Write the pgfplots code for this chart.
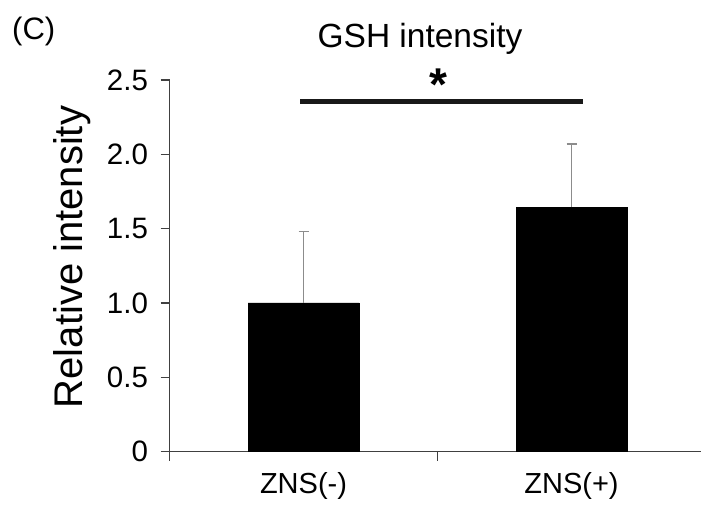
\documentclass[border=0pt]{standalone}
\usepackage{fontspec}
\setmainfont{Liberation Sans}
\usepackage{pgfplots}
\pgfplotsset{compat=1.18}
\begin{document}
\begin{tikzpicture}
\useasboundingbox (0pt,0pt) rectangle (701pt,504pt);
\node[anchor=base west, inner sep=0pt, font=\fontsize{31}{36}\selectfont] at (12pt,464pt) {(C)};
\begin{axis}[
  at={(169.5pt,52.5pt)}, anchor=south west,
  scale only axis, width=536pt, height=371.5pt,
  xmin=-0.5, xmax=1.5, ymin=0, ymax=2.5,
  axis x line*=bottom, axis y line*=left,
  axis line style={black!75, line width=1.2pt},
  clip=false,
  ybar, bar width=111pt,
  xtick={-0.5,0.5,1.5}, xticklabels={},
  x tick style={black!75, line width=1.2pt},
  y tick style={black!75, line width=1.2pt},
  tick align=outside, major tick length=9pt,
  extra x ticks={0,1}, extra x tick labels={ZNS(-),ZNS(+)},
  extra x tick style={major tick length=0pt, tick style={draw=none}},
  ytick={0,0.5,1,1.5,2,2.5},
  yticklabels={0,0.5,1.0,1.5,2.0,2.5},
  /pgf/number format/assume math mode=true,
  xticklabel style={font=\fontsize{29}{33}\selectfont, yshift=-17pt},
  yticklabel style={font=\fontsize{29.5}{33}\selectfont, xshift=-9pt},
  ylabel={Relative intensity},
  every axis y label/.style={at={(axis description cs:-0.1623,0.5236)}, rotate=90, anchor=base, inner sep=0pt, font=\fontsize{40}{46}\selectfont},
  title={GSH intensity},
  every axis title/.style={at={(axis cs:0.4347,2.722)}, anchor=base, inner sep=0pt, font=\fontsize{33.5}{38}\selectfont},
]
\addplot[fill=black, draw=black,
  error bars/.cd, y dir=plus, y explicit,
  error bar style={black!45, line width=1.5pt},
  error mark options={rotate=90, mark size=5pt, black!45, line width=1.5pt}]
  coordinates {(0,1.00) +- (0,0.48) (1,1.645) +- (0,0.425)};
\draw[line width=5pt, black!90] (axis cs:-0.013,2.352) -- (axis cs:1.043,2.352);
\node[font=\fontsize{46}{50}\selectfont\bfseries, inner sep=0pt] at (axis cs:0.505,2.47) {*};
\end{axis}
\end{tikzpicture}
\end{document}
